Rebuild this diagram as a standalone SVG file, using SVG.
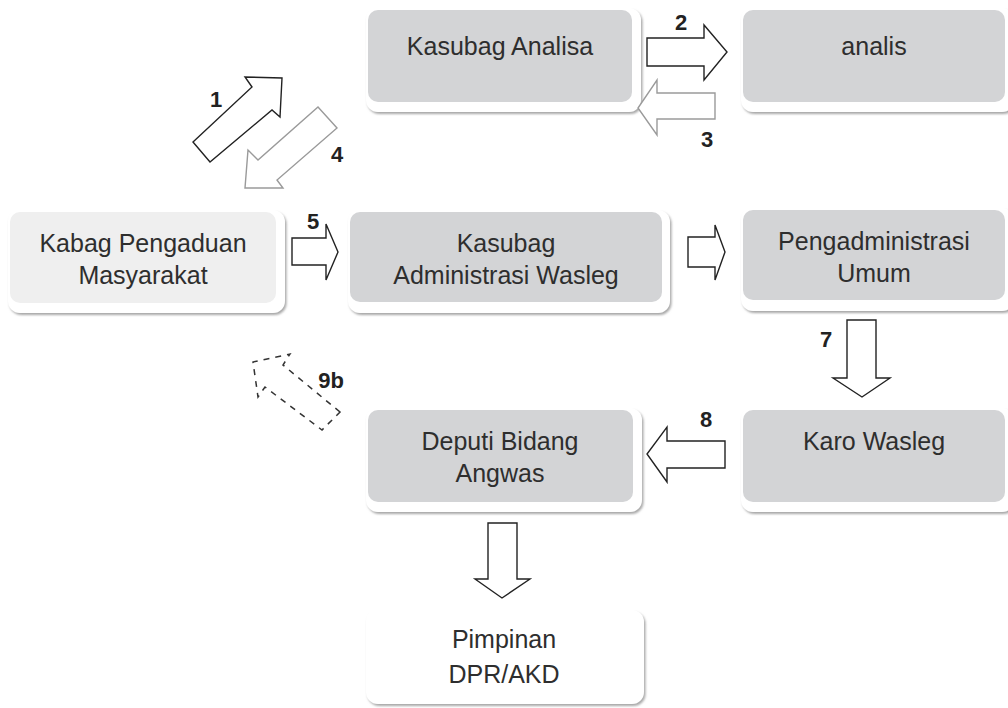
<svg xmlns="http://www.w3.org/2000/svg" width="1008" height="708" viewBox="0 0 1008 708">
<defs>
<filter id="sh" x="-5%" y="-10%" width="115%" height="130%">
<feDropShadow dx="1.5" dy="2" stdDeviation="0.8" flood-color="#8a8a8a" flood-opacity="0.75"/>
</filter>
</defs>
<style>
.frame{fill:#fff;filter:url(#sh)}
.box{fill:#d3d4d6}
.light{fill:#efefef}
.t{font-family:"Liberation Sans",Arial,sans-serif;font-size:25px;fill:#2e2e2e;text-anchor:middle}
.n{font-family:"Liberation Sans",Arial,sans-serif;font-size:22px;font-weight:bold;fill:#222;text-anchor:middle}
.a{fill:#fff;stroke:#222;stroke-width:1.4;stroke-linejoin:miter}
.ag{fill:#fff;stroke:#9a9a9a;stroke-width:1.4}
.ad{fill:none;stroke:#333;stroke-width:1.5;stroke-dasharray:6 6}
</style>
<rect width="1008" height="708" fill="#fff"/>

<g id="kasubag-analisa">
<rect class="frame" x="366" y="8" width="275" height="104" rx="12"/>
<rect class="box" x="368" y="10" width="264" height="92" rx="10"/>
<text class="t" x="500" y="55">Kasubag Analisa</text>
</g>
<g id="analis">
<rect class="frame" x="741" y="8" width="273" height="104" rx="12"/>
<rect class="box" x="743" y="10" width="262" height="92" rx="10"/>
<text class="t" x="874" y="55">analis</text>
</g>
<g id="kabag-pengaduan">
<rect class="frame" x="8" y="210" width="277" height="103" rx="12"/>
<rect class="light" x="10" y="212" width="266" height="91" rx="10"/>
<text class="t" x="143" y="252">Kabag Pengaduan</text>
<text class="t" x="143" y="284">Masyarakat</text>
</g>
<g id="kasubag-administrasi">
<rect class="frame" x="348" y="210" width="322" height="103" rx="12"/>
<rect class="box" x="350" y="212" width="312" height="90" rx="10"/>
<text class="t" x="506" y="252">Kasubag</text>
<text class="t" x="506" y="284">Administrasi Wasleg</text>
</g>
<g id="pengadministrasi-umum">
<rect class="frame" x="741" y="208" width="273" height="103" rx="12"/>
<rect class="box" x="743" y="210" width="262" height="90" rx="10"/>
<text class="t" x="874" y="250">Pengadministrasi</text>
<text class="t" x="874" y="282">Umum</text>
</g>
<g id="deputi">
<rect class="frame" x="366" y="408" width="276" height="104" rx="12"/>
<rect class="box" x="368" y="410" width="265" height="92" rx="10"/>
<text class="t" x="500" y="450">Deputi Bidang</text>
<text class="t" x="500" y="482">Angwas</text>
</g>
<g id="karo-wasleg">
<rect class="frame" x="741" y="408" width="273" height="104" rx="12"/>
<rect class="box" x="743" y="410" width="262" height="92" rx="10"/>
<text class="t" x="874" y="450">Karo Wasleg</text>
</g>
<g id="pimpinan">
<rect class="frame" x="366" y="610" width="278" height="94" rx="12"/>
<text class="t" x="504" y="648">Pimpinan</text>
<text class="t" x="504" y="683">DPR/AKD</text>
</g>

<g id="connectors">
<polygon class="a" points="193,142 252,87 245,77 282,78 280,117 272,110 210,162"/>
<polygon class="ag" points="318,107 337,128 277,180 283,188 245,188 248,150 258,160"/>
<polygon class="a" points="647,38 704,38 704,25 727,52 704,80 704,66 647,66"/>
<polygon class="ag" points="715,93 657,93 657,80 638,108 657,135 657,119 715,119"/>
<polygon class="a" points="292,238 326,238 326,224 338,252 326,280 326,265 292,265"/>
<polygon class="a" points="688,237 715,237 715,225 725,252 715,280 715,267 688,267"/>
<polygon class="a" points="847,320 876,320 876,378 890,378 862,397 833,378 847,378"/>
<polygon class="a" points="725,441 667,441 667,427 647,454 667,482 667,468 725,468"/>
<polygon class="a" points="488,523 517,523 517,579 530,579 502,598 475,579 488,579"/>
<polygon class="ad" points="340,412 283,365 290,354 253,362 258,397 265,387 322,430"/>
<text class="n" x="216" y="107">1</text>
<text class="n" x="681" y="30">2</text>
<text class="n" x="707" y="147">3</text>
<text class="n" x="337" y="162">4</text>
<text class="n" x="313" y="229">5</text>
<text class="n" x="826" y="347">7</text>
<text class="n" x="706" y="427">8</text>
<text class="n" x="331" y="388">9b</text>
</g>
</svg>
